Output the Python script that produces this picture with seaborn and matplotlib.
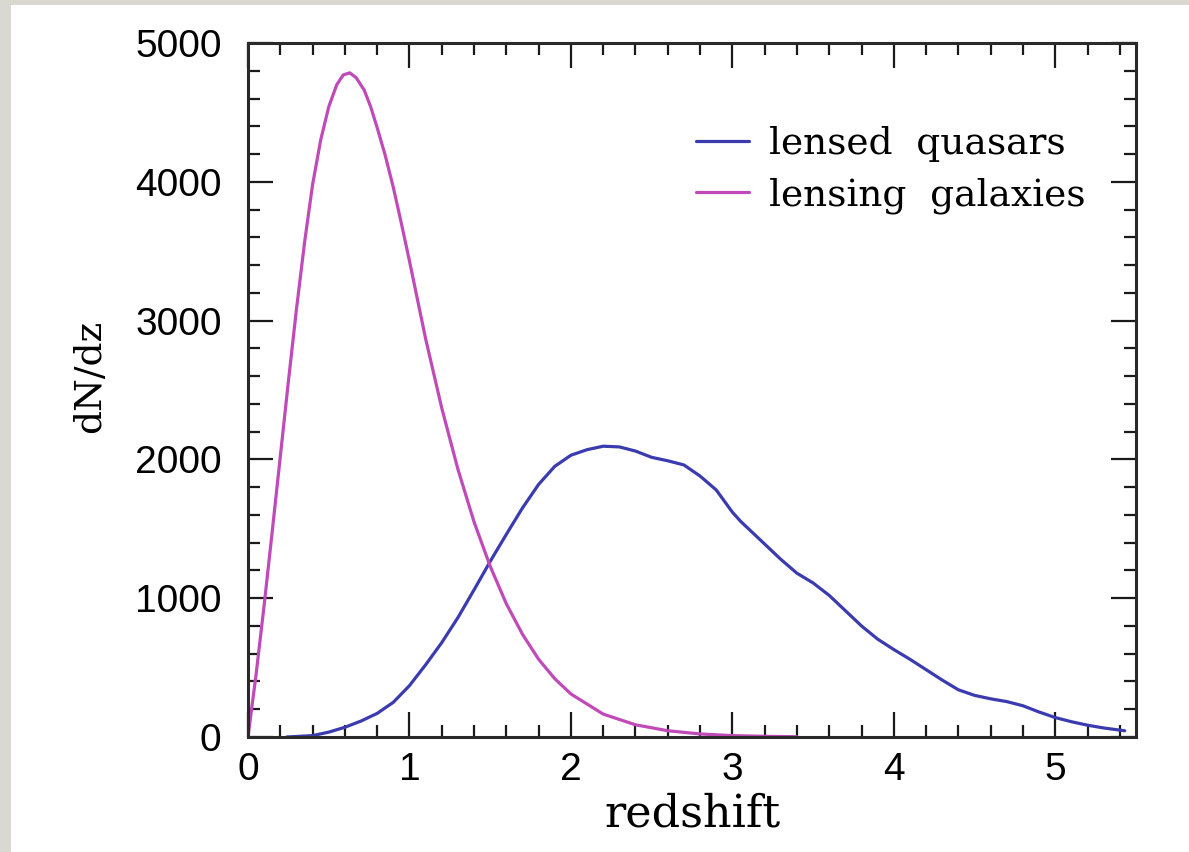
import matplotlib
matplotlib.use("Agg")
import matplotlib.pyplot as plt
from matplotlib.patches import Rectangle
from matplotlib.ticker import MultipleLocator
import seaborn as sns
import pandas as pd

# values
z_gal = [0.0, 0.05, 0.1, 0.15, 0.2, 0.25, 0.3, 0.35, 0.4, 0.45, 0.5, 0.55, 0.59, 0.63,
         0.67, 0.72, 0.76, 0.8, 0.85, 0.9, 0.95, 1.0, 1.1, 1.2, 1.3, 1.4, 1.5, 1.6, 1.7,
         1.8, 1.9, 2.0, 2.2, 2.4, 2.6, 2.8, 3.0, 3.2, 3.4]
n_gal = [0, 450, 950, 1480, 2020, 2560, 3080, 3560, 3980, 4300, 4540, 4700, 4770, 4785,
         4750, 4660, 4540, 4390, 4190, 3960, 3700, 3430, 2870, 2370, 1930, 1550, 1230, 960,
         740, 560, 420, 310, 165, 88, 45, 22, 10, 5, 2]

z_qso = [0.24, 0.4, 0.5, 0.6, 0.7, 0.8, 0.9, 1.0, 1.1, 1.2, 1.3, 1.4, 1.5, 1.6, 1.7,
         1.8, 1.9, 2.0, 2.1, 2.2, 2.3, 2.4, 2.5, 2.6, 2.7, 2.8, 2.9, 3.0, 3.05, 3.1,
         3.2, 3.3, 3.4, 3.5, 3.6, 3.7, 3.8, 3.9, 4.0, 4.1, 4.2, 4.3, 4.4, 4.5, 4.6,
         4.7, 4.8, 4.9, 5.0, 5.1, 5.2, 5.3, 5.43]
n_qso = [0, 10, 35, 70, 115, 170, 250, 370, 520, 680, 860, 1060, 1265, 1460, 1650,
         1820, 1950, 2030, 2070, 2095, 2090, 2060, 2015, 1990, 1960, 1880, 1780, 1620, 1555, 1500,
         1390, 1280, 1180, 1110, 1020, 910, 800, 705, 630, 560, 485, 410, 340, 300, 275,
         255, 225, 180, 140, 110, 85, 65, 45]

labels = ["lensed  quasars", "lensing  galaxies"]
colors = ["#3b3bb0", "#c04ab8"]

qso = pd.DataFrame({"z": z_qso, "dNdz": n_qso})
gal = pd.DataFrame({"z": z_gal, "dNdz": n_gal})

sns.set_style("ticks")
serif = ["DejaVu Serif"]
sans = ["Liberation Sans", "DejaVu Sans"]

fig = plt.figure(figsize=(11.89, 8.52), dpi=100)
fig.patch.set_facecolor("#d9d9d2")
# white sheet on the grey backdrop
fig.patches.append(Rectangle((11 / 1189, 0), 1, 1 - 5 / 852, transform=fig.transFigure,
                             facecolor="white", edgecolor="none", zorder=-5))

ax = fig.add_axes([248 / 1189, 1 - 737 / 852, (1136 - 248) / 1189, (737 - 43) / 852])
ax.set_zorder(2)
ax.set_facecolor("white")

sns.lineplot(data=qso, x="z", y="dNdz", ax=ax, color=colors[0], lw=2.3, label=labels[0])
sns.lineplot(data=gal, x="z", y="dNdz", ax=ax, color=colors[1], lw=2.3, label=labels[1])

ax.set_xlim(0, 5.5)
ax.set_ylim(0, 5000)
ax.xaxis.set_major_locator(MultipleLocator(1))
ax.xaxis.set_minor_locator(MultipleLocator(0.2))
ax.yaxis.set_major_locator(MultipleLocator(1000))
ax.yaxis.set_minor_locator(MultipleLocator(200))
ax.tick_params(which="both", direction="in", top=True, right=True, width=1.6,
               color="#1a1a1a", labelcolor="black")
ax.tick_params(which="major", length=18)
ax.tick_params(which="minor", length=8.5)
ax.tick_params(axis="y", which="major", pad=19)
ax.tick_params(axis="x", which="major", pad=11)
for lab in ax.get_xticklabels() + ax.get_yticklabels():
    lab.set_family(sans)
    lab.set_fontsize(28)
for sp in ax.spines.values():
    sp.set_linewidth(2.2)
    sp.set_color("#2a2a2a")

ax.set_xlabel("redshift", family=serif, fontsize=32, color="black", labelpad=3)
ax.set_ylabel("dN/dz", family=serif, fontsize=27, color="black")
ax.yaxis.set_label_coords(-0.158, 0.52)

leg = ax.legend(loc="upper left", bbox_to_anchor=(0.505, 0.88), frameon=False,
                prop={"family": serif, "size": 27}, handlelength=1.4,
                handletextpad=0.53, labelspacing=0.4, borderpad=0, borderaxespad=0)
for h in leg.get_lines():
    h.set_linewidth(2.3)
for t in leg.get_texts():
    t.set_color("black")

fig.savefig("out.png", dpi=100, facecolor=fig.get_facecolor())
